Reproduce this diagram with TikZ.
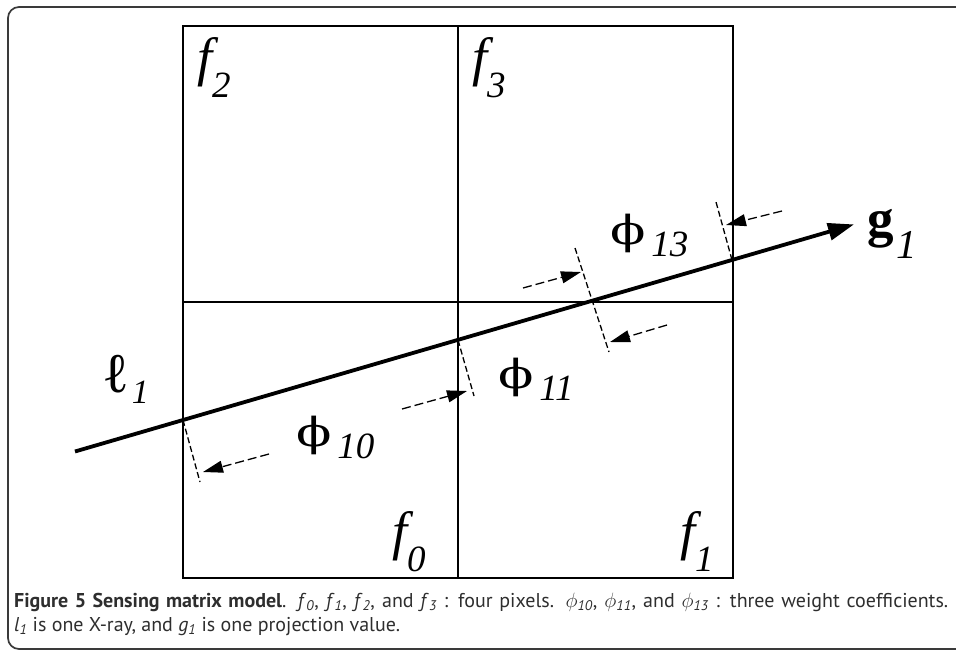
\documentclass[tikz,border=0pt]{standalone}
\usepackage{fontspec}
\usepackage{graphicx}
\setmainfont{Liberation Serif}
\newfontfamily\phifont{DejaVu Serif}
\newfontfamily\capfont{PT Sans}
\usetikzlibrary{arrows.meta}
\definecolor{capgray}{HTML}{2E2E2E}
\definecolor{framegray}{HTML}{3A3A3A}
\newcommand{\flab}[2]{{\fontsize{54}{54}\selectfont\itshape #1}\raisebox{-22pt}{\fontsize{37}{37}\selectfont\itshape #2}}
\newcommand{\plab}[1]{\scalebox{1.3}[1.0]{\phifont\fontsize{40}{40}\selectfont ϕ}\kern6pt\raisebox{-12pt}{\fontsize{37}{37}\selectfont\itshape #1}}
\newcommand{\csub}[2]{\textit{#1}\textsubscript{\textit{#2}}}
\begin{document}
\begin{tikzpicture}[x=1pt,y=-1pt,
  lbl/.style={anchor=base west,inner sep=0pt,outer sep=0pt},
  outerline/.style={line width=2.2pt,draw=black},
  innerline/.style={line width=1.4pt,draw=black},
  ray/.style={line width=3.8pt,-{Triangle[length=26pt,width=17pt]}},
  tick/.style={line width=1.3pt,dash pattern=on 6pt off 3pt},
  darr/.style={line width=1.3pt,dash pattern=on 9pt off 4pt,-{Triangle[length=20pt,width=12pt]}},
  captext/.style={anchor=base west,inner sep=0pt,text=capgray,font=\capfont\fontsize{20}{24}\selectfont}]
\useasboundingbox (0,0) rectangle (956,651);
\clip (0,0) rectangle (956,651);
% frame
\draw[line width=1.7pt,draw=framegray,rounded corners=11pt] (8,7) rectangle (1000,649);
% grid
\coordinate (g00) at (183,26);
\coordinate (g22) at (733,578);
\draw[innerline] (458,26) -- (458,578);
\draw[innerline] (183,302) -- (733,302);
\draw[outerline] (g00) rectangle (g22);
% ray
\coordinate (rs) at (75,451.5);
\coordinate (re) at (854,224.4);
\coordinate (P1) at (183,420);
\coordinate (P2) at (458,340);
\coordinate (P4) at (732,260);
\draw[ray] (rs) -- (re);
% ticks
\coordinate (T1) at (200,482);
\coordinate (T2) at (474,396);
\coordinate (T3a) at (575,248);
\coordinate (T3b) at (609,352);
\coordinate (T4) at (716,202);
\draw[tick] (P1) -- (T1);
\draw[tick] (P2) -- (T2);
\draw[tick] (T3a) -- (T3b);
\draw[tick] (P4) -- (T4);
% dashed arrows
\coordinate (a1s) at (269,454); \coordinate (a1e) at (203,472);
\coordinate (a2s) at (402,409); \coordinate (a2e) at (467,391);
\coordinate (a3s) at (523,288); \coordinate (a3e) at (581,272);
\coordinate (a4s) at (667,325); \coordinate (a4e) at (610,342);
\coordinate (a5s) at (782,211); \coordinate (a5e) at (726,225);
\draw[darr] (a1s) -- (a1e);
\draw[darr] (a2s) -- (a2e);
\draw[darr] (a3s) -- (a3e);
\draw[darr] (a4s) -- (a4e);
\draw[darr] (a5s) -- (a5e);
% labels
\node[lbl] (f2) at (197,75) {\flab{f}{2}};
\node[lbl] (f3) at (472,75) {\flab{f}{3}};
\node[lbl] (f0) at (392,549) {\flab{f}{0}};
\node[lbl] (f1) at (680,549) {\flab{f}{1}};
\node[lbl] (l1) at (102,392) {{\fontsize{56}{56}\selectfont ℓ}\kern3pt\raisebox{-11pt}{\fontsize{34}{34}\selectfont\itshape 1}};
\node[lbl] (p10) at (296,446) {\plab{10}};
\node[lbl] (p11) at (498,388) {\plab{11}};
\node[lbl] (p13) at (610,244) {\plab{13}};
\node[lbl] (g1) at (867,236) {{\bfseries\fontsize{53}{53}\selectfont g}\kern3pt\raisebox{-22pt}{\fontsize{41}{41}\selectfont\itshape 1}};
% caption
\node[captext] (cap1) at (14,607) {\makebox[934pt][s]{\textbf{Figure 5 Sensing matrix model}. \csub{f}{0}, \csub{f}{1}, \csub{f}{2}, and \csub{f}{3} : four pixels. $\phi$\textsubscript{\textit{10}}, $\phi$\textsubscript{\textit{11}}, and $\phi$\textsubscript{\textit{13}} : three weight coefficients.}};
\node[captext] (cap2) at (14,631) {\csub{l}{1} is one X-ray, and \csub{g}{1} is one projection value.};
\end{tikzpicture}
\end{document}
